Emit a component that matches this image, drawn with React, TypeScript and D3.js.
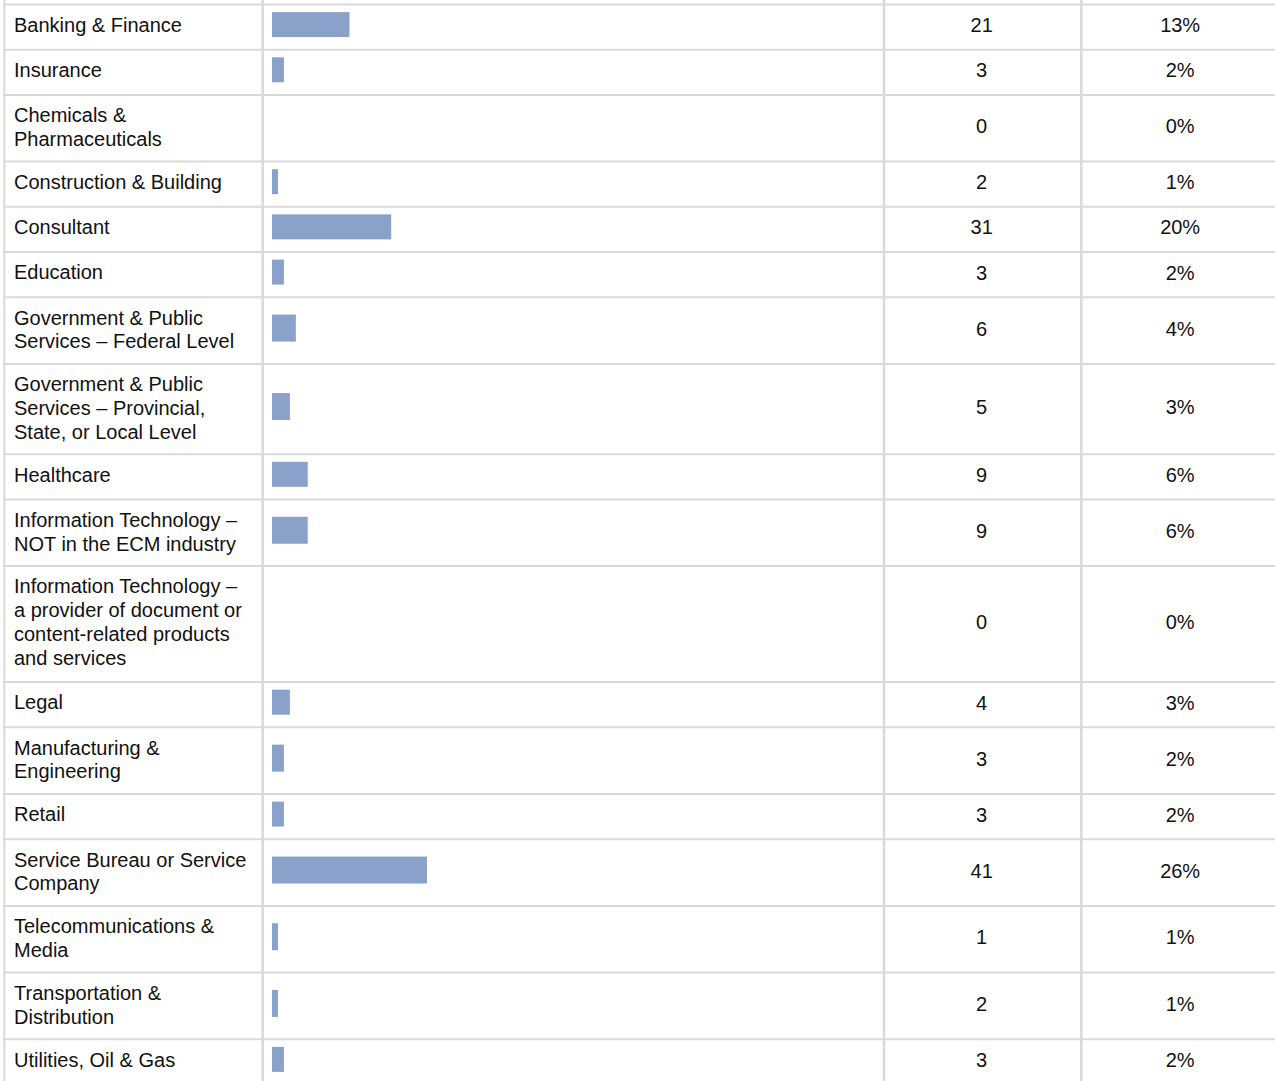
import React, { useEffect, useRef } from "react";
import * as d3 from "d3";

// Industry rows (label lines as they wrap in the table)
const categories: string[][] = [
  ["Banking & Finance"],
  ["Insurance"],
  ["Chemicals &", "Pharmaceuticals"],
  ["Construction & Building"],
  ["Consultant"],
  ["Education"],
  ["Government & Public", "Services – Federal Level"],
  ["Government & Public", "Services – Provincial,", "State, or Local Level"],
  ["Healthcare"],
  ["Information Technology –", "NOT in the ECM industry"],
  [
    "Information Technology –",
    "a provider of document or",
    "content-related products",
    "and services",
  ],
  ["Legal"],
  ["Manufacturing &", "Engineering"],
  ["Retail"],
  ["Service Bureau or Service", "Company"],
  ["Telecommunications &", "Media"],
  ["Transportation &", "Distribution"],
  ["Utilities, Oil & Gas"],
];

const counts = [21, 3, 0, 2, 31, 3, 6, 5, 9, 9, 0, 4, 3, 3, 41, 1, 2, 3];
const percents = [13, 2, 0, 1, 20, 2, 4, 3, 6, 6, 0, 3, 2, 2, 26, 1, 1, 2];

const App = () => {
  const ref = useRef<SVGSVGElement>(null);

  useEffect(() => {
    const width = 1275,
      height = 1081;

    const svg = d3.select(ref.current);
    svg.selectAll("*").remove();

    // column edges
    const colLeft = 4.3,
      colBar = 262.7,
      colCount = 884,
      colPct = 1081.3,
      colRight = 1278;

    // row height depends on how many lines the label wraps into
    const pitch = [0, 45.2, 66.7, 90.3, 116];
    const tops: number[] = [];
    let y = 3.5;
    categories.forEach((c) => {
      tops.push(y);
      y += pitch[c.length];
    });
    tops.push(y);

    const x = d3.scaleLinear().domain([0, 100]).range([0, 596]);

    const font = "'Liberation Sans', Arial, sans-serif";
    const grid = "#d9d9d9";

    const rows = svg
      .append("g")
      .selectAll("g")
      .data(categories)
      .enter()
      .append("g");

    // bars
    rows
      .append("rect")
      .attr("x", colBar + 9.3)
      .attr("y", (d, i) => {
        const mid = (tops[i] + 2 + tops[i + 1]) / 2;
        const h = d.length > 1 ? 27 : 25;
        return mid - 2.5 - h / 2;
      })
      .attr("width", (d, i) => x(percents[i]))
      .attr("height", (d) => (d.length > 1 ? 27 : 25))
      .attr("fill", "#8aa2c9");

    // labels
    rows
      .append("text")
      .attr("font-family", font)
      .attr("font-size", 20)
      .attr("fill", "#111")
      .selectAll("tspan")
      .data((d, i) => d.map((line, j) => ({ line, j, i })))
      .enter()
      .append("tspan")
      .attr("x", 14)
      .attr("y", (d) => tops[d.i] + 28.3 + d.j * 23.8)
      .text((d) => d.line);

    // counts
    rows
      .append("text")
      .attr("font-family", font)
      .attr("font-size", 20)
      .attr("fill", "#111")
      .attr("text-anchor", "middle")
      .attr("x", (colCount + colPct) / 2 - 1)
      .attr("y", (d, i) => (tops[i] + 2 + tops[i + 1]) / 2 + 5)
      .text((d, i) => counts[i]);

    // percentages
    rows
      .append("text")
      .attr("font-family", font)
      .attr("font-size", 20)
      .attr("fill", "#111")
      .attr("text-anchor", "middle")
      .attr("x", (colPct + colRight) / 2 + 0.5)
      .attr("y", (d, i) => (tops[i] + 2 + tops[i + 1]) / 2 + 5)
      .text((d, i) => percents[i] + "%");

    // horizontal grid lines
    svg
      .append("g")
      .selectAll("line")
      .data(tops)
      .enter()
      .append("line")
      .attr("x1", colLeft - 1)
      .attr("x2", width)
      .attr("y1", (d) => d + 1)
      .attr("y2", (d) => d + 1)
      .attr("stroke", grid)
      .attr("stroke-width", 2);

    // vertical grid lines
    svg
      .append("g")
      .selectAll("line")
      .data([colLeft, colBar, colCount, colPct])
      .enter()
      .append("line")
      .attr("x1", (d) => d)
      .attr("x2", (d) => d)
      .attr("y1", 0)
      .attr("y2", height)
      .attr("stroke", grid)
      .attr("stroke-width", (d, i) => (i === 0 ? 2 : 2.5));
  }, []);

  return (
    <svg
      ref={ref}
      width="1275"
      height="1081"
      style={{ position: "absolute", left: 0, top: 0, background: "#fff" }}
    ></svg>
  );
};

export default App;
